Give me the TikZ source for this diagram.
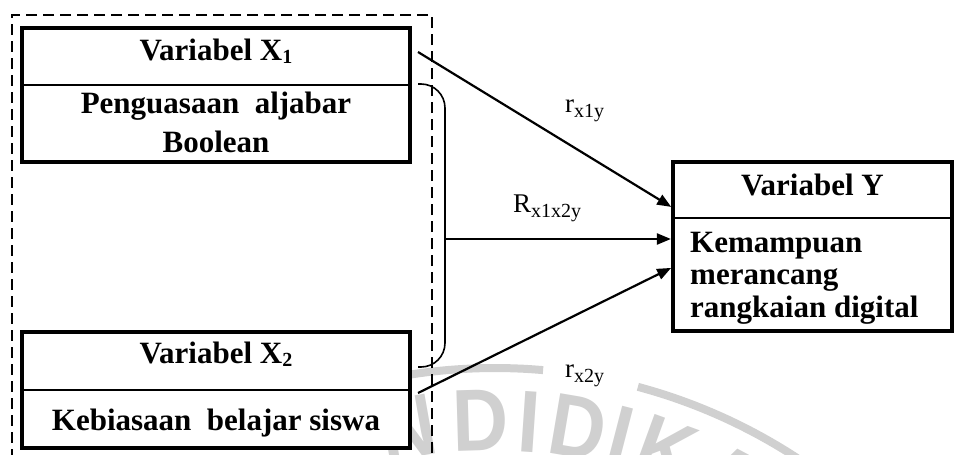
\documentclass[tikz,border=0pt]{standalone}
\usepackage{fontspec}
\setmainfont{Liberation Serif}
\newfontfamily\wmfont{Liberation Sans}
\usetikzlibrary{arrows.meta}

% lowered subscripts for box titles and for the correlation labels
\newcommand\varsub[1]{\raisebox{-3pt}{\fontsize{20}{20}\selectfont #1}}
\newcommand\coefsub[1]{\raisebox{-5.5pt}{\fontsize{20}{20}\selectfont #1}}

\begin{document}
\begin{tikzpicture}[x=1pt, y=-1pt,
  varbox/.style={draw, line width=4.2pt, fill=white, inner sep=0pt, outer sep=0pt},
  divider/.style={line width=2.6pt},
  head/.style={font=\fontsize{31}{37}\selectfont\bfseries, anchor=base, inner sep=0pt},
  link/.style={line width=2.2pt, shorten >=2.1pt, -{Triangle[length=14pt,width=11pt]}},
  coef/.style={font=\fontsize{27}{32}\selectfont, anchor=base west, inner sep=0pt},
  group/.style={draw, line width=2pt, dash pattern=on 11pt off 6pt, inner sep=0pt, outer sep=0pt},
  brace/.style={line width=1.6pt, rounded corners=24pt},
  wmline/.style={draw=gray!37, line width=8pt},
  wm/.style={text=gray!37, font=\wmfont\bfseries\fontsize{88}{88}\selectfont, inner sep=0pt, anchor=north}]

\clip (0,0) rectangle (954,455);

% faint seal watermark in the background
\draw[wmline] plot[domain=-100:-85, samples=30] ({495+552*cos(\x)},{920+552*sin(\x)});
\draw[wmline] plot[domain=-75:-45, samples=40] ({495+552*cos(\x)},{920+552*sin(\x)});
\foreach \ch/\d/\nm in {N/-10/wa, D/-1.7/wb, I/3.9/wc, D/9.6/wd, I/14.5/we, K/20/wf, A/28/wg}
  \node[wm, rotate=-\d, xscale=0.88] (\nm) at ({495+530*sin(\d)},{920-530*cos(\d)}) {\ch};

% dashed frame grouping both independent variables
\node[group, minimum width=420pt, minimum height=460pt] (G) at (222,245) {};

% variable boxes
\node[varbox, minimum width=388pt, minimum height=134pt] (X1) at (216,95) {};
\node[varbox, minimum width=388pt, minimum height=116pt] (X2) at (216,390) {};
\node[varbox, minimum width=279pt, minimum height=169pt] (Y) at (812.5,246.5) {};

\draw[divider] (X1.west |- 0,85) -- (X1.east |- 0,85);
\draw[divider] (X2.west |- 0,390) -- (X2.east |- 0,390);
\draw[divider] (Y.west |- 0,218) -- (Y.east |- 0,218);

% box texts
\node[head] (x1h) at (216,60) {Variabel X\varsub{1}};
\node[head] (x1b1) at (216,113) {Penguasaan\ \ aljabar};
\node[head] (x1b2) at (216,152) {Boolean};
\node[head] (x2h) at (216,363) {Variabel X\varsub{2}};
\node[head] (x2b) at (216,430) {Kebiasaan\ \ belajar siswa};
\node[head] (yh) at (812.5,195) {Variabel Y};
\node[head, anchor=base west] (yb1) at (690,252) {Kemampuan};
\node[head, anchor=base west] (yb2) at (690,284.5) {merancang};
\node[head, anchor=base west] (yb3) at (690,317) {rangkaian digital};

% bracket joining X1 and X2
\coordinate (s1) at (418,52);
\coordinate (s2) at (418,393);
\coordinate (bt) at (418,84);
\coordinate (bb) at (418,367);
\coordinate (bm) at (445,239);
\draw[brace] (bt) -| (bm) |- (bb);

% paths to Y
\draw[link] (s1) -- (Y.west |- 0,208);
\draw[link] (bm) -- (Y.west |- 0,239);
\draw[link] (s2) -- (Y.west |- 0,267);

% correlation labels
\node[coef] (r1) at (565,112) {r\coefsub{x1y}};
\node[coef] (r12) at (513,212) {R\coefsub{x1x2y}};
\node[coef] (r2) at (565,377) {r\coefsub{x2y}};
\end{tikzpicture}
\end{document}
